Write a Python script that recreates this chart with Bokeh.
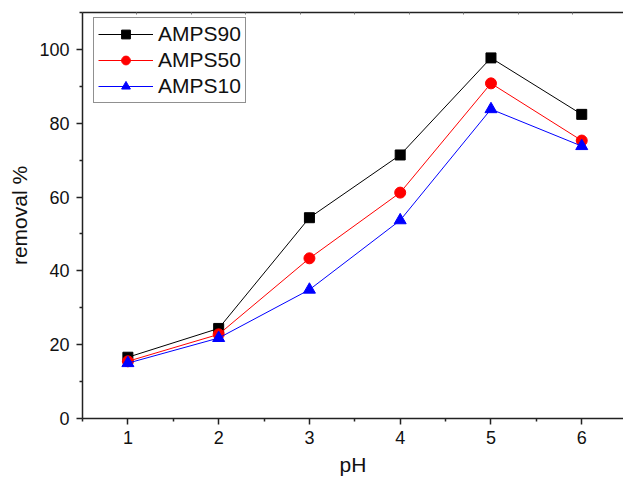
from bokeh.plotting import figure
from bokeh.models import LinearAxis, FixedTicker, Range1d, Legend, LegendItem
from bokeh.embed import file_html
from bokeh.resources import INLINE

ph = [1, 2, 3, 4, 5, 6]
amps90 = [16.6, 24.4, 54.4, 71.4, 97.7, 82.4]
amps50 = [15.5, 22.8, 43.4, 61.2, 90.8, 75.3]
amps10 = [15.0, 21.8, 34.9, 53.7, 83.8, 73.8]
x_ticks = [1, 2, 3, 4, 5, 6]
x_minor = [0.5, 1.5, 2.5, 3.5, 4.5, 5.5]
y_ticks = [0, 20, 40, 60, 80, 100]
y_minor = [10, 30, 50, 70, 90, 110]
top_ticks = [0.5, 1.1, 1.7, 2.3, 2.9, 3.5, 4.1, 4.7, 5.3, 5.9]

FONT = "Liberation Sans"
AX = "#222222"

p = figure(width=623, height=481, output_backend="svg", toolbar_location=None,
           x_range=Range1d(0.5, 6.46), y_range=Range1d(0, 110),
           min_border_left=82, min_border_right=0, min_border_top=12, min_border_bottom=63,
           x_axis_label="pH", y_axis_label="removal %")
p.xgrid.visible = False
p.ygrid.visible = False
p.outline_line_color = None

for ax in (p.xaxis[0], p.yaxis[0]):
    ax.axis_line_width = 1.5
    ax.axis_line_color = AX
    ax.major_tick_line_color = AX
    ax.minor_tick_line_color = AX
    ax.major_tick_line_width = 1.5
    ax.minor_tick_line_width = 1.5
    ax.major_tick_out = 6
    ax.major_tick_in = 0
    ax.minor_tick_out = 3
    ax.minor_tick_in = 0
    ax.major_label_text_font = FONT
    ax.major_label_text_font_size = "18px"
    ax.major_label_text_color = "#111111"
    ax.axis_label_text_font = FONT
    ax.axis_label_text_font_size = "21px"
    ax.axis_label_text_font_style = "normal"
    ax.axis_label_text_color = "#111111"

p.xaxis[0].ticker = FixedTicker(ticks=x_ticks, minor_ticks=x_minor)
p.yaxis[0].ticker = FixedTicker(ticks=y_ticks, minor_ticks=y_minor)
p.xaxis[0].major_label_standoff = 6
p.xaxis[0].axis_label_standoff = 6
p.yaxis[0].major_label_standoff = 7
p.yaxis[0].axis_label_standoff = 5

top = LinearAxis(ticker=FixedTicker(ticks=[], minor_ticks=top_ticks),
                 axis_line_width=1.5, axis_line_color=AX,
                 major_tick_in=0, major_tick_out=0, major_label_standoff=0,
                 minor_tick_in=2, minor_tick_out=0, minor_tick_line_color="#777777",
                 minor_tick_line_width=1)
p.add_layout(top, "above")

r90l = p.line(ph, amps90, line_color="black", line_width=1)
r90m = p.scatter(ph, amps90, marker="square", size=10, fill_color="black", line_color="black")
r50l = p.line(ph, amps50, line_color="red", line_width=1)
r50m = p.scatter(ph, amps50, marker="circle", size=11, fill_color="red", line_color="red")
r10l = p.line(ph, amps10, line_color="blue", line_width=1)
r10m = p.scatter(ph, amps10, marker="triangle", size=12, fill_color="blue", line_color="blue")

legend = Legend(items=[
    LegendItem(label="AMPS90", renderers=[r90l, r90m]),
    LegendItem(label="AMPS50", renderers=[r50l, r50m]),
    LegendItem(label="AMPS10", renderers=[r10l, r10m]),
], location=(11, 315))
legend.label_text_font = FONT
legend.label_text_font_size = "21px"
legend.label_text_color = "#111111"
legend.glyph_width = 55
legend.glyph_height = 22
legend.label_height = 22
legend.spacing = 2
legend.padding = 4
legend.margin = 0
legend.label_standoff = 5
legend.border_line_color = AX
legend.border_line_width = 1.2
legend.background_fill_alpha = 1
p.add_layout(legend)

open("out.html", "w").write(file_html(p, INLINE))
